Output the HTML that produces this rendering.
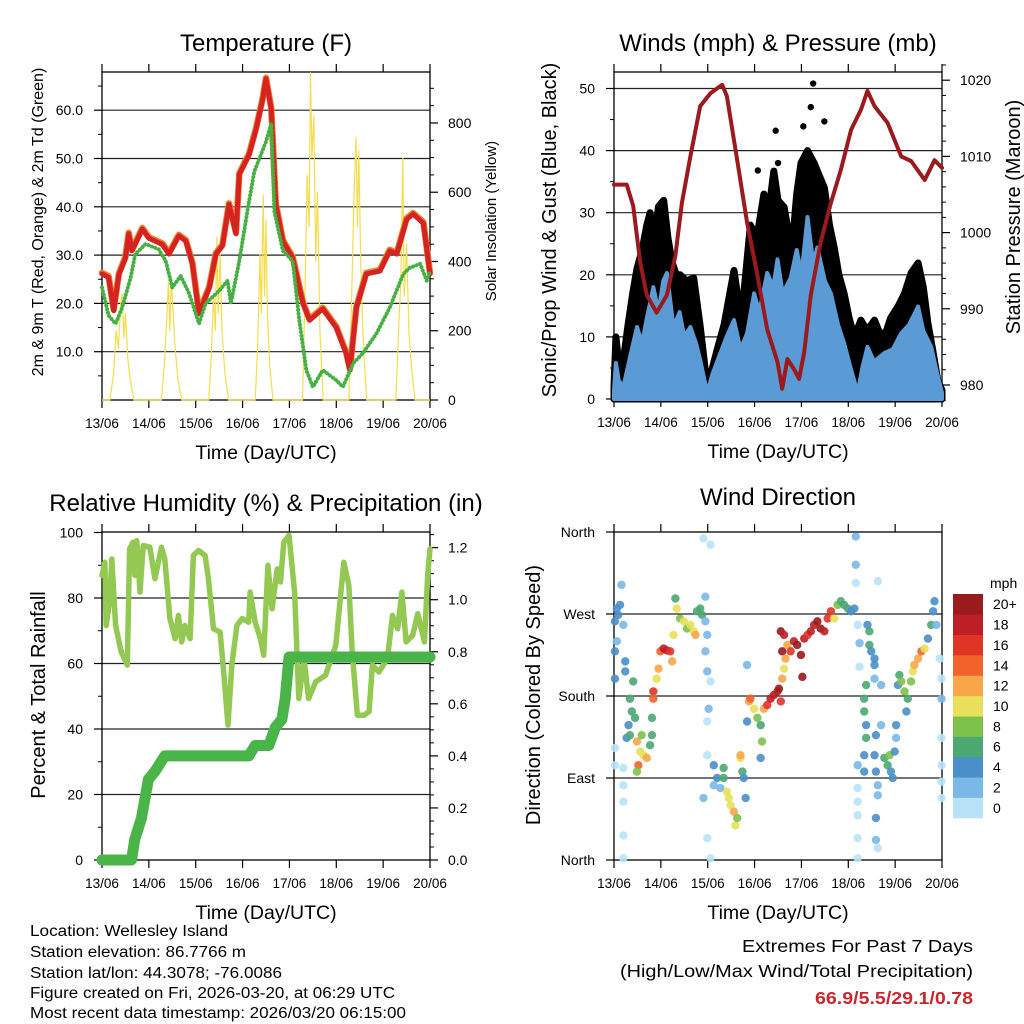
<!DOCTYPE html>
<html><head><meta charset="utf-8"><style>
html,body{margin:0;padding:0;background:#fff;}
svg{display:block;font-family:"Liberation Sans",sans-serif;}
</style></head><body>
<svg id="chart" width="1024" height="1024" viewBox="0 0 1024 1024" xmlns="http://www.w3.org/2000/svg">
<rect x="0" y="0" width="1024" height="1024" fill="#fff"/>
<g id="layers"></g>
<g font-size="15.5" fill="#000">
<text x="30" y="936" textLength="198" lengthAdjust="spacingAndGlyphs">Location: Wellesley Island</text>
<text x="30" y="957" textLength="216" lengthAdjust="spacingAndGlyphs">Station elevation: 86.7766 m</text>
<text x="30" y="978" textLength="252" lengthAdjust="spacingAndGlyphs">Station lat/lon: 44.3078; -76.0086</text>
<text x="30" y="998" textLength="365" lengthAdjust="spacingAndGlyphs">Figure created on Fri, 2026-03-20, at 06:29 UTC</text>
<text x="30" y="1018" textLength="376" lengthAdjust="spacingAndGlyphs">Most recent data timestamp: 2026/03/20 06:15:00</text>
</g>
<g>
<text x="742" y="952" font-size="17.5" textLength="231" lengthAdjust="spacingAndGlyphs">Extremes For Past 7 Days</text>
<text x="620" y="977" font-size="17.5" textLength="353" lengthAdjust="spacingAndGlyphs">(High/Low/Max Wind/Total Precipitation)</text>
<text x="815" y="1004" font-size="17.5" font-weight="bold" fill="#c8282e" textLength="158" lengthAdjust="spacingAndGlyphs">66.9/5.5/29.1/0.78</text>
</g>
</svg>
<script>
// ---- Temperature panel data ----
const tempT=[0,.14,.25,.36,.5,.57,.64,.86,1.0,1.29,1.43,1.64,1.79,1.93,2.07,2.29,2.43,2.57,2.71,2.86,2.93,3.14,3.29,3.43,3.5,3.61,3.71,3.86,4.07,4.29,4.43,4.71,5.0,5.21,5.29,5.43,5.64,5.93,6.14,6.29,6.5,6.64,6.86,7.0];
const tempV=[26.1,25.4,18.5,26,29.4,34.4,30.9,35.4,33.5,32.2,30.2,34,32.9,28.2,17.9,23.3,30.2,31.9,40.5,34.4,46.7,50.8,56.2,62.3,66.5,60.3,40.5,32.9,29.4,20,16.5,18.9,15,9.7,6.2,19.1,26.1,26.7,30.9,30.2,37.4,38.5,36.6,26.1];
const dewT=[0,.14,.29,.43,.61,.71,.93,1.21,1.36,1.5,1.68,1.86,2.07,2.21,2.5,2.68,2.75,2.93,3.14,3.25,3.5,3.61,3.68,3.86,4.07,4.21,4.36,4.5,4.71,5.0,5.14,5.36,5.57,5.86,6.14,6.43,6.57,6.79,6.93,7.0];
const dewV=[23.3,17.5,15.8,19.1,25.3,30.2,32.3,31.2,28.8,23.3,25.7,22,15.8,20,22.6,24.7,20,28.8,41.2,47.3,53.5,57.2,39,30.9,28.8,16.5,6.2,2.7,6.2,4.1,2.7,7.6,9.7,13.8,19.1,26.1,27.4,28.2,24.7,26.7];
const solT=[0,.17,.25,.3,.35,.4,.43,.47,.5,.55,.6,.68,1.27,1.33,1.38,1.42,1.45,1.48,1.52,1.56,1.62,1.7,2.28,2.33,2.38,2.42,2.45,2.48,2.52,2.56,2.62,2.7,3.27,3.32,3.37,3.4,3.44,3.47,3.5,3.53,3.58,3.65,4.28,4.33,4.38,4.42,4.45,4.48,4.52,4.56,4.6,4.65,4.72,5.27,5.33,5.38,5.42,5.45,5.48,5.52,5.58,5.65,6.27,6.33,6.38,6.42,6.45,6.5,6.55,6.6,6.68,7.0];
const solV=[0,0,80,200,150,280,307,180,250,120,60,0,0,100,230,340,200,354,250,150,60,0,0,120,300,200,470,250,420,200,80,0,0,150,420,250,591,300,520,250,100,0,0,300,650,500,945,700,820,400,600,200,0,0,300,600,757,500,720,400,150,0,0,200,350,699,300,450,200,100,0,0];
const tempTicks=[10,20,30,40,50,60];
const solTicks=[0,200,400,600,800];
const dayLabels=["13/06","14/06","15/06","16/06","17/06","18/06","19/06","20/06"];
// ---- Winds panel data ----
const presT=[0,.27,.41,.56,.7,.91,1.13,1.31,1.45,1.63,1.84,2.06,2.31,2.41,2.63,2.84,3.06,3.27,3.49,3.59,3.7,3.84,3.95,4.06,4.2,4.41,4.63,4.84,5.06,5.27,5.41,5.56,5.84,6.13,6.34,6.63,6.84,7.0];
const presV=[1006.3,1006.3,1003.5,996.1,991.8,989.5,991.8,997,1003.9,1010,1016.6,1018.3,1019.4,1017.9,1009.5,1001.3,994.4,987.3,983,979.5,983.4,982.1,980.8,984.3,991.8,998.7,1003.9,1008.2,1013.5,1016.1,1018.6,1016.6,1014.4,1010,1009.4,1006.9,1009.5,1008.5];
const gustT=[0,.04,.1,.2,.3,.4,.49,.6,.7,.77,.85,.95,1.06,1.15,1.24,1.33,1.41,1.55,1.7,1.84,1.99,2.1,2.2,2.35,2.56,2.65,2.77,2.91,3.05,3.2,3.3,3.41,3.5,3.63,3.72,3.81,3.9,3.99,4.13,4.27,4.38,4.49,4.6,4.7,4.8,4.91,5.02,5.13,5.27,5.4,5.56,5.65,5.77,5.9,6.06,6.2,6.34,6.49,6.6,6.7,6.8,6.91,7.0];
const gustV=[2,10,6,6.3,12,17,21,24,28,30,25,31,32,26,22,20,20,19,19.5,11.7,2,5,7.9,12,20.7,16,17,28,26,33,30,36.7,32,30.9,27,25.2,33,38,40,38,36,34,28,24.4,20,17,13,10,12.7,11,12.7,11,10,13,14.9,17,20.3,21.9,18,12.2,8,3,1.4];
const windT=[0,.04,.1,.2,.35,.49,.6,.7,.84,.95,1.05,1.13,1.27,1.4,1.5,1.63,1.75,1.84,1.99,2.1,2.27,2.4,2.56,2.7,2.84,2.99,3.1,3.27,3.4,3.49,3.6,3.77,3.9,4.0,4.13,4.25,4.34,4.5,4.63,4.78,4.91,5.05,5.2,5.3,5.41,5.55,5.77,5.95,6.13,6.3,6.49,6.6,6.77,6.9,7.0];
const windV=[1.4,5.8,3,2,7,11.6,9,13,18,14,19,20.3,11.6,14,10,11.6,9,6.3,1,4,7.4,10,12.7,8,10.6,17,14,20.3,18,22.5,17,19.5,24,20,29.3,22,24.4,19,17,12,9,5,1,5,8.4,6,7.4,8,10.6,12,14.9,11,8.4,4,1];
const gustDotT=[3.45,3.07,4.25,4.49,4.04,3.5,4.2];
const gustDotV=[43.2,36.8,50.8,44.7,43.9,38,47];
const windTicks=[0,10,20,30,40,50];
const presTicks=[980,990,1000,1010,1020];
// ---- RH / precip data ----
const rhT=[0,.06,.09,.16,.21,.29,.41,.54,.59,.66,.7,.74,.81,.88,1.02,1.13,1.27,1.34,1.45,1.56,1.63,1.7,1.77,1.88,1.95,2.06,2.2,2.27,2.38,2.52,2.59,2.69,2.77,2.88,2.99,3.13,3.16,3.27,3.38,3.45,3.54,3.63,3.74,3.81,3.88,3.99,4.11,4.2,4.31,4.41,4.56,4.77,4.99,5.16,5.27,5.34,5.45,5.59,5.7,5.77,5.91,6.09,6.2,6.31,6.4,6.49,6.63,6.74,6.88,6.95,7.0];
const rhV=[86.9,90.9,71.6,78.7,91.9,71.6,63.5,59.5,95,97,86.9,97.5,81.8,96,95.5,85.9,95.5,91.9,73.7,67.6,74.7,66.6,71.6,67.6,93,94.5,93,85.9,70.6,69.6,58.4,41.2,59.5,71.6,73.7,72.6,81.8,72.6,67.6,62.5,90,76.7,88.9,84.9,97,99.1,81.8,49.3,61.5,49.3,54.4,56.4,65.6,90.9,83.8,63.5,44.2,44.2,45.3,59.5,57.4,61.5,74.7,70.6,81.8,66.6,68.6,75.2,66.6,86.9,95];
const rainT=[0,.63,.7,.84,.99,1.13,1.34,3.13,3.27,3.56,3.7,3.84,3.91,3.99,7.0];
const rainV=[0,0,.08,.16,.31,.34,.4,.4,.44,.44,.51,.54,.62,.78,.78];
const rhTicks=[0,20,40,60,80,100];
const rainTicks=[0,.2,.4,.6,.8,1.0,1.2];
// ---- Wind direction data ----
const dirT=[.06,.13,.09,.16,.02,.2,.06,.02,.02,.24,.24,.34,.41,.38,.31,.27,.34,.45,.49,.56,.63,.7,.52,.59,.77,.81,.49,.2,.2,.2,.2,.2,.02,.02,.81,.84,.84,.91,.95,.99,1.06,1.13,1.2,1.24,1.27,1.31,1.34,1.41,1.49,1.56,1.63,1.7,1.74,1.77,1.84,1.88,1.95,1.99,1.95,1.99,2.06,2.02,1.99,1.99,1.91,1.99,2.06,1.91,2.06,1.95,2.13,2.2,2.27,2.34,2.13,2.34,2.41,2.45,2.49,2.56,2.59,2.63,2.7,2.74,2.77,2.81,2.7,2.84,2.84,2.88,2.91,2.99,3.06,3.13,3.16,3.13,3.2,3.27,3.34,3.41,3.49,3.56,3.52,3.56,3.63,3.59,3.66,3.7,3.77,3.84,3.91,3.99,4.06,4.13,4.2,4.27,4.34,4.41,4.49,4.56,4.63,4.7,4.77,4.84,4.91,4.99,5.06,5.13,4.02,3.59,3.63,5.16,5.16,5.16,5.2,5.24,5.24,5.2,5.2,5.2,5.2,5.2,5.2,5.63,5.41,5.45,5.45,5.49,5.56,5.38,5.34,5.34,5.38,5.38,5.34,5.34,5.56,5.56,5.59,5.56,5.59,5.63,5.63,5.59,5.59,5.63,5.7,5.7,5.77,5.84,5.91,5.88,5.95,5.99,6.02,6.02,6.06,6.09,6.13,6.2,6.24,6.27,6.34,6.38,6.41,6.49,6.56,6.63,6.7,6.77,6.81,6.84,6.88,6.95,6.99,6.99,6.99,6.99,6.99,6.99];
const dirV=[276,280,269,302,262,258,240,229,199,218,207,177,196,163,148,134,137,156,130,119,115,112,104,137,126,137,97,101,82,64,27,2,123,104,156,185,177,199,210,229,232,230,229,218,247,287,276,265,262,254,258,251,247,273,276,269,262,247,229,207,196,166,152,115,68,24,2,353,346,289,104,90,79,101,82,90,75,68,60,53,38,46,112,97,90,68,115,214,152,174,177,166,156,148,130,112,166,170,177,181,185,174,188,251,247,229,221,236,229,240,236,225,243,247,251,258,262,254,251,265,273,265,280,284,280,276,273,276,201,199,210,355,324,304,258,238,212,104,79,64,49,24,2,306,258,251,236,229,221,192,177,163,148,134,115,97,214,199,137,115,97,82,71,46,22,13,192,148,112,104,97,115,90,119,134,148,192,203,196,185,163,177,196,207,214,221,229,232,243,258,273,284,258,221,199,177,134,104,86,68];
const dirS=[4,4,4,3,4,2,3,4,4,4,4,6,7,6,4,5,6,6,12,11,11,12,14,8,7,7,8,1,1,1,1,1,1,1,6,17,14,11,12,15,18,18,16,12,10,7,10,9,10,9,11,10,12,7,6,7,3,2,2,2,1,2,1,1,2,1,1,1,1,2,4,4,3,6,3,7,10,10,11,12,10,8,10,7,5,4,12,2,4,12,14,11,8,7,8,4,13,16,18,19,18,16,20,20,19,20,12,13,17,18,20,20,18,17,19,19,20,20,19,17,16,10,8,7,7,6,5,4,20,13,10,2,2,1,1,2,1,2,1,1,1,1,1,1,4,6,6,5,5,6,7,6,4,6,4,4,4,3,4,4,4,3,2,4,2,1,2,2,6,7,4,8,4,4,3,4,5,7,8,8,5,6,9,11,12,13,14,10,5,6,4,4,2,1,1,2,1,1,1,1];
const dirTicks=[0,90,180,270,360];
const dirTickLabels=["North","East","South","West","North"];
const speedLabels=["0","2","4","6","8","10","12","14","16","18","20+"];
const speedColors=["#b7e2f7","#7ab8e6","#4a8fc8","#4ba872","#7cc24a","#e8e05a","#f8a647","#f26329","#e03427","#bd1f26","#9a1a1e"];

const NS="http://www.w3.org/2000/svg";
const root=document.getElementById('layers');
function mk(tag,attrs,parent){const e=document.createElementNS(NS,tag);for(const k in attrs)e.setAttribute(k,attrs[k]);(parent||root).appendChild(e);return e;}
function txt(s,attrs,parent){const e=mk('text',attrs,parent);e.textContent=s;return e;}

const P1={x0:102,x1:430,y0:72,y1:400};
const P2={x0:614,x1:942,y0:72,y1:399};
const P3={x0:102,x1:430,y0:532,y1:860};
const P4={x0:614,x1:942,y0:532,y1:860};
const xs=(P)=>t=>P.x0+t/7*(P.x1-P.x0);
const yTemp=v=>400-v*4.83;
const ySol=v=>400-v*0.3463;
const yWind=v=>399-v*6.21;
const yPres=p=>385-(p-980)*7.62;
const yRH=v=>860-v*3.275;
const yRain=v=>860-v*260.3;
const yDir=d=>860-d*328/360;

function pathOf(T,V,fx,fy){let d='';for(let i=0;i<T.length;i++)d+=(i?'L':'M')+fx(T[i]).toFixed(1)+','+fy(V[i]).toFixed(1);return d;}

function frame(P,name,grid,gy){
  const g=mk('g',{});
  
  
  grid.forEach(v=>{const l=mk('line',{x1:P.x0,x2:P.x1,y1:gy(v),y2:gy(v),stroke:'#222','stroke-width':1.2},g);
    
    });
  const r=mk('rect',{x:P.x0,y:P.y0,width:P.x1-P.x0,height:P.y1-P.y0,fill:'none',stroke:'#000','stroke-width':1.3},g);
  
  
  const fx=xs(P);
  for(let d=0;d<=7;d++){
    const x=fx(d);
    const a=mk('line',{x1:x,x2:x,y1:P.y1,y2:P.y1+8,stroke:'#000','stroke-width':1.2},g);
    
    
    const b=mk('line',{x1:x,x2:x,y1:P.y0,y2:P.y0-8,stroke:'#000','stroke-width':1.2},g);
    
    
    const t=txt(dayLabels[d],{x:x,y:P.y1+28,'font-size':13.5,'text-anchor':'middle'},g);
    
    
  }
  const xt=txt('Time (Day/UTC)',{x:(P.x0+P.x1)/2,y:P.y1+59,'font-size':19.5,'text-anchor':'middle'},g);
  
  
  return g;
}
function yAxis(P,g,ticks,labels,fy,side,minor){
  const x=side==='l'?P.x0:P.x1, dir=side==='l'?-1:1;
  minor.forEach(v=>{const l=mk('line',{x1:x,x2:x+dir*4,y1:fy(v),y2:fy(v),stroke:'#000','stroke-width':1},g);
    
    });
  ticks.forEach((v,i)=>{const y=fy(v);
    const l=mk('line',{x1:x,x2:x+dir*8,y1:y,y2:y,stroke:'#000','stroke-width':1.2},g);
    
    
    const t=txt(labels[i],{x:side==='l'?x-19:x+18,y:y+5,'font-size':14,'text-anchor':side==='l'?'end':'start'},g);
    
    });
}
function title(s,x,y,name){const t=txt(s,{x:x,y:y,'font-size':24,'text-anchor':'middle'});
  
  }
function vtitle(s,x,y,size,name){const t=txt(s,{x:0,y:0,'font-size':size,'text-anchor':'middle',transform:`translate(${x},${y}) rotate(-90)`});
  
  }

// ===== Panel 1 =====
{
  const P=P1,fx=xs(P);
  const g=frame(P,'temperature',tempTicks,yTemp);
  yAxis(P,g,tempTicks,tempTicks.map(v=>v.toFixed(1)),yTemp,'l',[5,15,25,35,45,55,65]);
  yAxis(P,g,solTicks,solTicks.map(String),ySol,'r',[50,100,150,250,300,350,450,500,550,650,700,750,850,900]);
  const s=mk('path',{d:pathOf(solT,solV,fx,ySol),fill:'none',stroke:'#f7dc4a','stroke-width':1.2,'stroke-linejoin':'round'});
  
  
  const o=mk('path',{d:pathOf(tempT,tempV,fx,yTemp),fill:'none',stroke:'#f07f2c','stroke-width':6.5,'stroke-linejoin':'round','stroke-linecap':'round',transform:'translate(0,-1)'});
  
  
  const r=mk('path',{d:pathOf(tempT,tempV,fx,yTemp),fill:'none',stroke:'#d42322','stroke-width':5,'stroke-linejoin':'round','stroke-linecap':'round'});
  
  
  const d=mk('path',{d:pathOf(dewT,dewV,fx,yTemp),fill:'none',stroke:'#46b043','stroke-width':4,'stroke-dasharray':'0.1 3.6','stroke-linecap':'round'});
  
  
  title('Temperature (F)',266,51,'temperature-title');
  vtitle('2m & 9m T (Red, Orange) & 2m Td (Green)',43,222,16,'temperature-y-axis-title');
  vtitle('Solar Insolation (Yellow)',496,221,15,'solar-y-axis-title');
}
// ===== Panel 2 =====
{
  const P=P2,fx=xs(P);
  const g=frame(P,'winds',[10,20,30,40,50],yWind);
  yAxis(P,g,windTicks,windTicks.map(String),yWind,'l',[5,15,25,35,45]);
  yAxis(P,g,presTicks,presTicks.map(String),yPres,'r',[978,982,984,986,988,992,994,996,998,1002,1004,1006,1008,1012,1014,1016,1018,1022]);
  let gd=pathOf(gustT,gustV,fx,yWind)+`L${fx(7)},${yWind(0)}L${fx(0)},${yWind(0)}Z`;
  const ga=mk('path',{d:gd,fill:'#000',stroke:'#000','stroke-width':7,'stroke-linejoin':'round'});
  
  
  gustDotT.forEach((t,i)=>{const c=mk('circle',{cx:fx(t),cy:yWind(gustDotV[i]),r:3.2,fill:'#000'});
    
    });
  let wd=pathOf(windT,windV,fx,yWind)+`L${fx(7)},${yWind(0)}L${fx(0)},${yWind(0)}Z`;
  const wa=mk('path',{d:wd,fill:'#5b9bd5',stroke:'#5b9bd5','stroke-width':4,'stroke-linejoin':'round'});
  
  
  const p=mk('path',{d:pathOf(presT,presV,fx,yPres),fill:'none',stroke:'#9b1a1e','stroke-width':4,'stroke-linejoin':'round','stroke-linecap':'round'});
  
  
  title('Winds (mph) & Pressure (mb)',778,51,'winds-title');
  vtitle('Sonic/Prop Wind & Gust (Blue, Black)',556,230,20,'wind-y-axis-title');
  vtitle('Station Pressure (Maroon)',1020,217,20,'pressure-y-axis-title');
}
// ===== Panel 3 =====
{
  const P=P3,fx=xs(P);
  const g=frame(P,'humidity',[20,40,60,80],yRH);
  yAxis(P,g,rhTicks,rhTicks.map(String),yRH,'l',[10,30,50,70,90]);
  yAxis(P,g,rainTicks,rainTicks.map(v=>v.toFixed(1)),yRain,'r',[.05,.1,.15,.25,.3,.35,.45,.5,.55,.65,.7,.75,.85,.9,.95,1.05,1.1,1.15,1.25]);
  const h=mk('path',{d:pathOf(rhT,rhV,fx,yRH),fill:'none',stroke:'#93c952','stroke-width':5.5,'stroke-linejoin':'round','stroke-linecap':'round'});
  
  
  const r=mk('path',{d:pathOf(rainT,rainV,fx,yRain),fill:'none',stroke:'#49b548','stroke-width':11,'stroke-linejoin':'round','stroke-linecap':'round'});
  
  
  title('Relative Humidity (%) & Precipitation (in)',266,511,'humidity-title');
  vtitle('Percent & Total Rainfall',45,695,20,'humidity-y-axis-title');
}
// ===== Panel 4 =====
{
  const P=P4,fx=xs(P);
  const g=frame(P,'direction',[90,180,270],yDir);
  yAxis(P,g,dirTicks,dirTickLabels,yDir,'l',[]);
  dirT.forEach((t,i)=>{const c=mk('circle',{cx:fx(t),cy:yDir(dirV[i]),r:4.2,fill:speedColors[Math.min(10,Math.floor(dirS[i]/2))],'fill-opacity':0.9});
    
    });
  title('Wind Direction',778,505,'direction-title');
  vtitle('Direction (Colored By Speed)',540,695,20,'direction-y-axis-title');
  const lg=mk('g',{});
  
  
  const bh=224/11;
  speedColors.forEach((c,i)=>{const y=818-(i+1)*bh;
    const r=mk('rect',{x:953,y:y,width:30,height:bh+0.3,fill:c},lg);
    
    
    const t=txt(speedLabels[i],{x:993,y:y+bh/2+5,'font-size':14},lg);
    
    });
  const m=txt('mph',{x:990,y:588,'font-size':14},lg);
  
  
}
</script>
</body></html>
